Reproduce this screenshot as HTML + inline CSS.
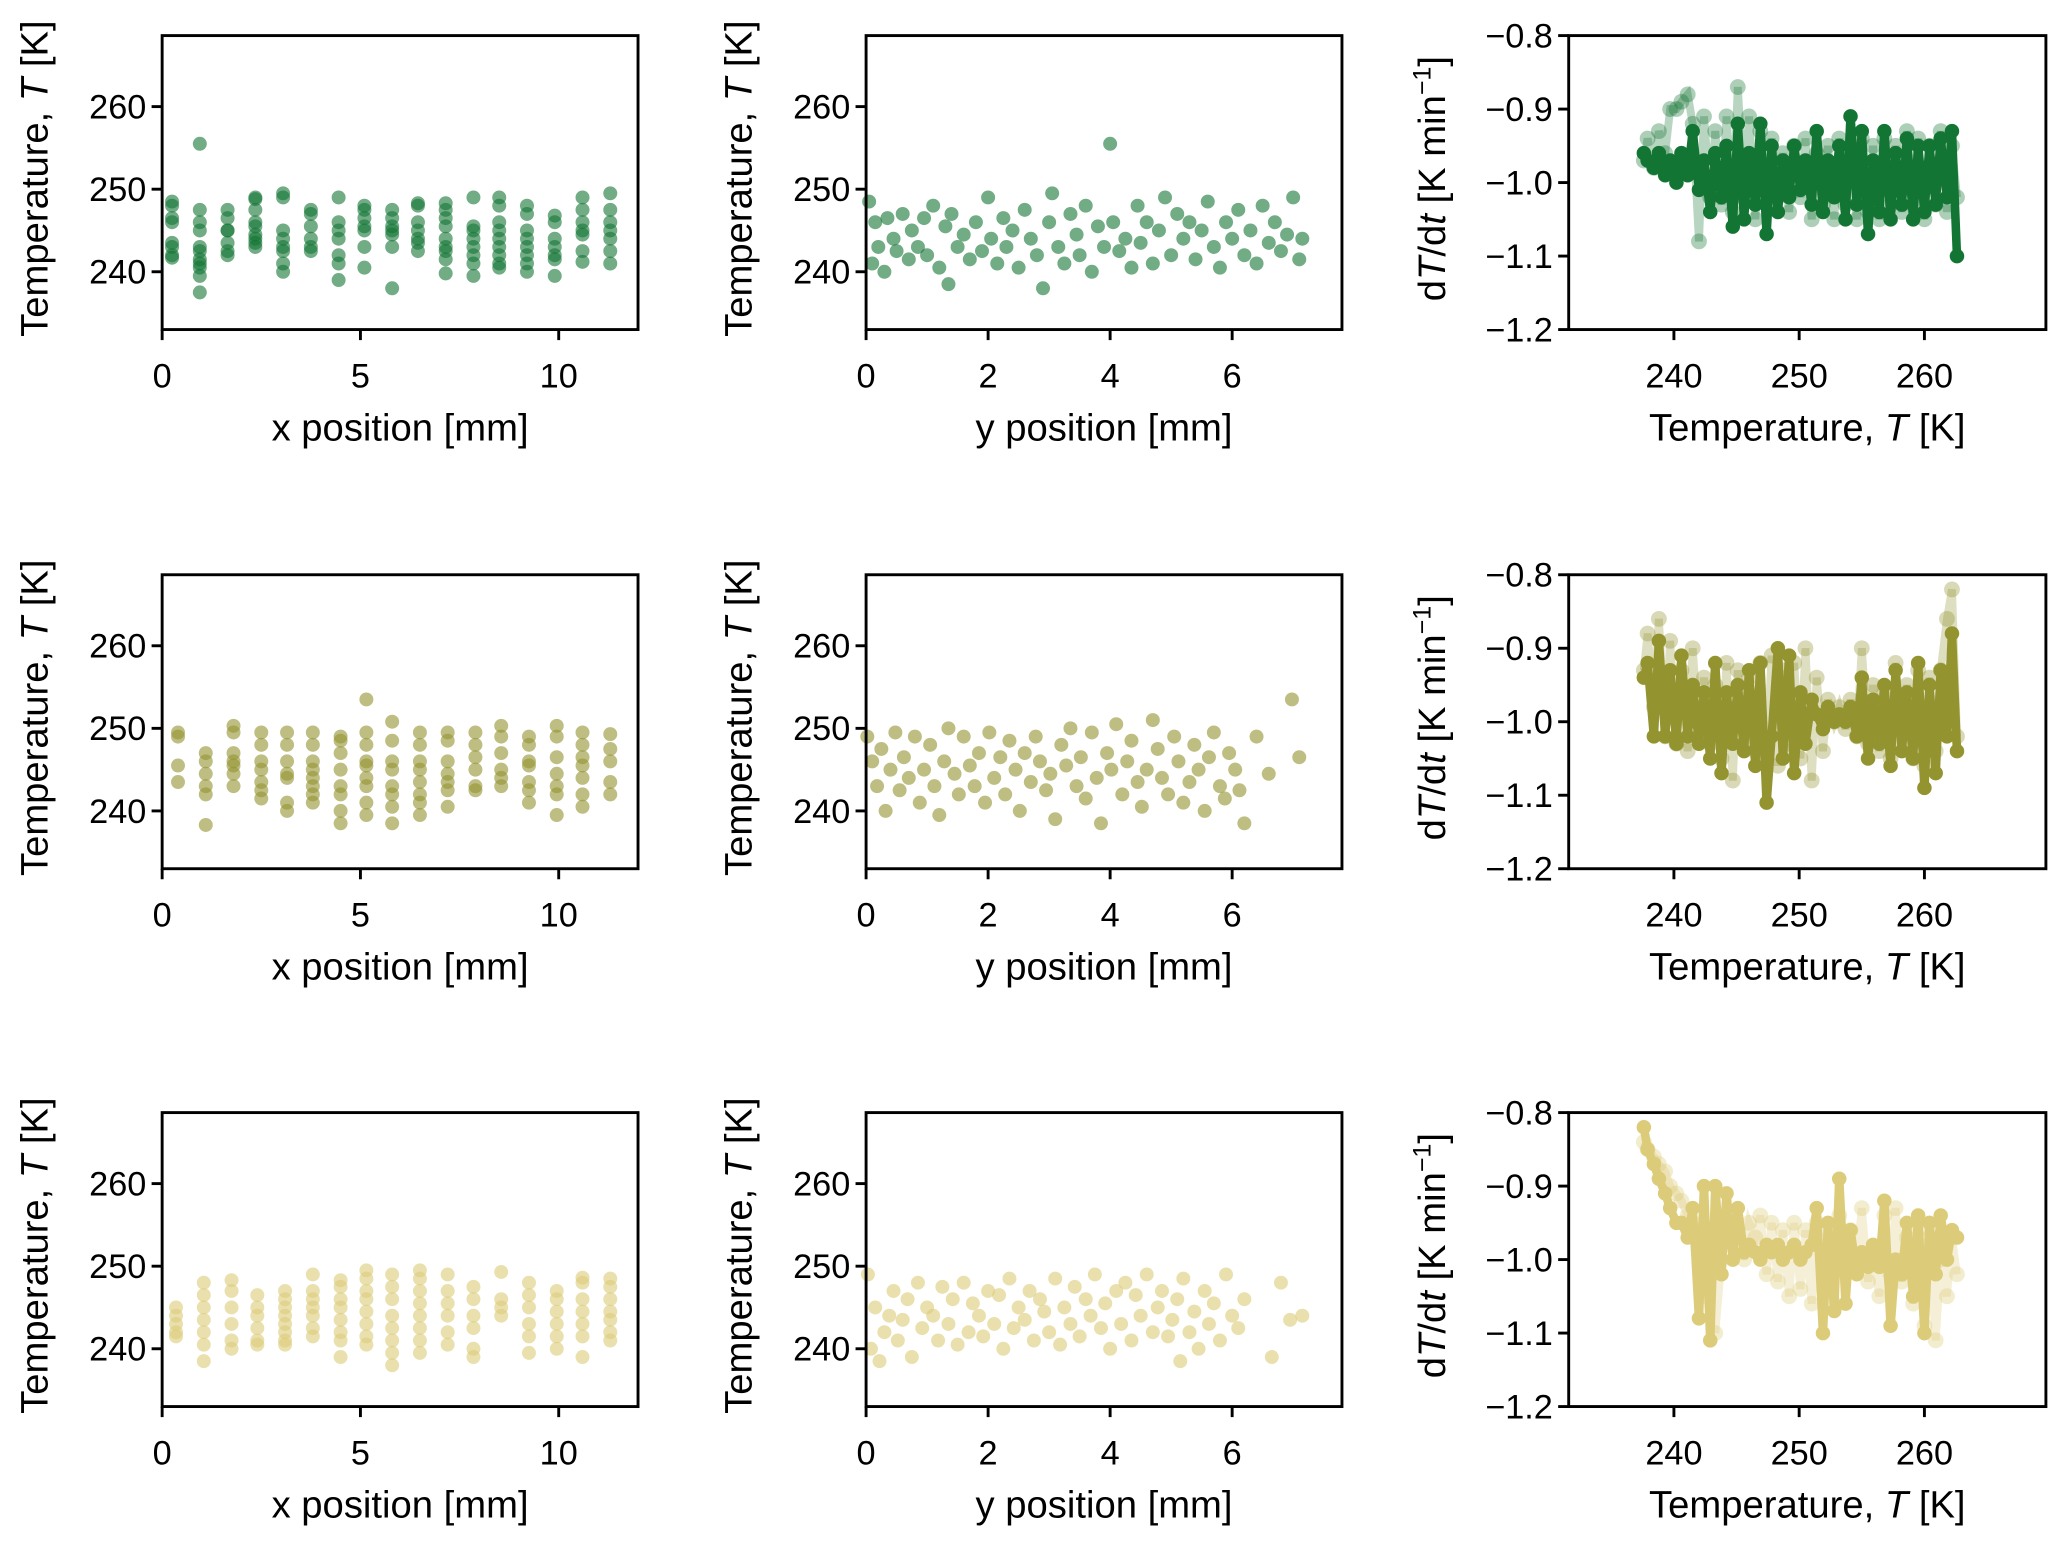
<!DOCTYPE html>
<html><head><meta charset="utf-8"><title>Temperature panels</title>
<style>
html,body{margin:0;padding:0;background:#fff;}
svg{display:block;font-family:"Liberation Sans",Arial,sans-serif;}
</style></head>
<body>
<svg id="fig" width="2067" height="1543" viewBox="0 0 1568 1170.5" preserveAspectRatio="none" xmlns="http://www.w3.org/2000/svg"></svg>
<script>
// ---------- data ----------
const xColsRow1 = [0.25,0.95,1.65,2.35,3.05,3.75,4.45,5.1,5.8,6.45,7.15,7.85,8.5,9.2,9.9,10.6,11.3];
const xTempsRow1 = [
[248.5,248,246.5,246,243.5,243,242,241.7],
[255.5,247.5,246,245,243,242.5,241.5,241,240.5,239.5,237.5],
[247.5,246.5,245,245,243.5,242.5,242],
[249,248.8,247.5,246,245.5,244.5,244,243.5,243],
[249.5,249,245,244,243,242.5,241,240],
[247.5,247,245.5,244,243,242.5],
[249,246,245,244,242,241,239],
[248,247.5,246.5,245.5,245,243,240.5],
[247.5,246.5,245.5,245,244.5,243,238],
[248.3,248,246,245,244,243.5,242.5],
[248.3,247.5,246.5,245.5,244,243,242.5,241.5,239.8],
[249,245.5,245,244,243,242,241,239.5],
[249,248,246,245,244,243,242,241,240.5],
[248,247,245,244,243,242,241,240],
[246.8,246,244,243,242,241.5,239.5],
[249,247.5,246,245,244.5,242.5,241.2],
[249.5,247.5,246,245,244,242.5,241]];
const xColsRow2 = [0.4,1.1,1.8,2.5,3.15,3.8,4.5,5.15,5.8,6.5,7.2,7.9,8.55,9.25,9.95,10.6,11.3];
const xTempsRow2 = [
[249.5,249,245.5,243.5],
[247,246,244.5,243,242,238.3],
[250.3,249.5,247,246,245.5,244.5,243],
[249.5,248,246,245,243.5,242.5,241.5],
[249.5,248,246,244.5,244,241,240],
[249.5,248,246,245,244,243,242,241],
[249,248.5,247,245,243,242,240,238.5],
[253.5,249.5,248,246,245.5,244,243,241,239.5],
[250.8,248.5,246,245,243,242,240.5,238.5],
[249.5,248,246,245,243.5,242,241,239.5],
[249.5,248.5,246,244.5,243.5,242.5,240.5],
[249.5,248,246.5,245,243,242.5],
[250.3,249,247,245,244,243],
[249,248,246,245.5,243.5,242.5,241],
[250.3,249,246.5,244.5,243,242,239.5],
[249.5,248,246.5,245.5,244,242,240.5],
[249.3,247.5,246,243.5,242]];
const xColsRow3 = [0.35,1.05,1.75,2.4,3.1,3.8,4.5,5.15,5.8,6.5,7.2,7.85,8.55,9.25,9.95,10.6,11.3];
const xTempsRow3 = [
[245,244,243,242,241.5],
[248,246.5,245,243.5,242,240.5,238.5],
[248.3,247,245,243,241,240],
[246.5,245,244,242.5,241,240.5],
[247,246,245,244,243,242,241,240.5],
[249,247,246,245,244,242.5,241.5],
[248.3,247.5,246,245,243.5,242,241,239],
[249.5,248.5,247,246,244.5,243,241.5,240.5],
[249,247.5,246,244,242.5,241,239.5,238],
[249.5,248.5,247,245.5,244,242.5,241,239.5],
[249,247,245.5,244,242,240.5],
[247.5,246,244,242.5,240,239],
[249.3,246,245,244],
[248,246.5,245,243,241.5,239.5],
[247,246,244.5,243,241.5,240],
[248.6,248,246,244.5,243,241.5,239],
[248.5,247.5,246,244.5,243.5,242,241]];

const yPos1 = [0.05,0.1,0.15,0.2,0.3,0.35,0.45,0.5,0.6,0.7,0.75,0.85,0.95,1.0,1.1,1.2,1.3,1.35,1.4,1.5,1.6,1.7,1.8,1.9,2.0,2.05,2.15,2.25,2.3,2.4,2.5,2.6,2.7,2.8,2.9,3.0,3.05,3.15,3.25,3.35,3.45,3.5,3.6,3.7,3.8,3.9,4.0,4.05,4.15,4.25,4.35,4.45,4.5,4.6,4.7,4.8,4.9,5.0,5.1,5.2,5.3,5.4,5.5,5.6,5.7,5.8,5.9,6.0,6.1,6.2,6.3,6.4,6.5,6.6,6.7,6.8,6.9,7.0,7.1,7.15];
const yTemps1 = [248.5,241,246,243,240,246.5,244,242.5,247,241.5,245,243,246.5,242,248,240.5,245.5,238.5,247,243,244.5,241.5,246,242.5,249,244,241,246.5,243,245,240.5,247.5,244,242,238,246,249.5,243,241,247,244.5,242,248,240,245.5,243,255.5,246,242.5,244,240.5,248,243.5,246,241,245,249,242,247,244,246,241.5,245,248.5,243,240.5,246,244,247.5,242,245,241,248,243.5,246,242.5,244.5,249,241.5,244];
const yPos2 = [0.02,0.1,0.18,0.25,0.32,0.4,0.48,0.55,0.62,0.7,0.8,0.88,0.95,1.05,1.12,1.2,1.28,1.35,1.45,1.52,1.6,1.7,1.78,1.85,1.95,2.02,2.1,2.2,2.28,2.35,2.45,2.52,2.6,2.7,2.78,2.85,2.95,3.02,3.1,3.2,3.28,3.35,3.45,3.52,3.6,3.7,3.78,3.85,3.95,4.02,4.1,4.2,4.28,4.35,4.45,4.52,4.6,4.7,4.78,4.85,4.95,5.05,5.12,5.2,5.3,5.38,5.45,5.55,5.62,5.7,5.8,5.88,5.95,6.05,6.12,6.2,6.4,6.6,6.98,7.1];
const yTemps2 = [249,246,243,247.5,240,245,249.5,242.5,246.5,244,249,241,245,248,243,239.5,246,250,244.5,242,249,245.5,243,247,241,249.5,244,246.5,242,248.5,245,240,247,243.5,249,246,242.5,244.5,239,248,245.5,250,243,246.5,241.5,249.5,244,238.5,247,245,250.5,242,246,248.5,243.5,240.5,245,251,247.5,244,242,249,246,241,243.5,248,245,240,246.5,249.5,243,241.5,247,245,242.5,238.5,249,244.5,253.5,246.5];
const yPos3 = [0.03,0.08,0.15,0.22,0.3,0.38,0.45,0.52,0.6,0.68,0.75,0.85,0.92,1.0,1.1,1.18,1.25,1.35,1.42,1.5,1.6,1.68,1.75,1.85,1.92,2.0,2.1,2.18,2.25,2.35,2.42,2.5,2.6,2.68,2.75,2.85,2.92,3.0,3.1,3.18,3.25,3.35,3.42,3.5,3.6,3.68,3.75,3.85,3.92,4.0,4.1,4.18,4.25,4.35,4.42,4.5,5.15,4.6,4.7,4.78,4.85,4.95,5.02,5.1,5.2,5.3,5.38,5.45,5.55,5.62,5.7,5.8,5.9,6.0,6.1,6.2,6.65,6.8,6.95,7.15];
const yTemps3 = [249,240,245,238.5,242,244,247,241,243.5,246,239,248,242.5,245,244,241,247.5,243,246,240.5,248,242,245.5,244,241.5,247,243,246.5,240,248.5,242.5,245,243.5,247,241,246,244.5,242,248.5,240.5,245,243,247.5,241.5,246,244,249,242.5,245.5,240,247,243,248,241,246.5,244,238.5,249,242,245,247,241.5,243.5,246,248.5,242,244.5,240,247,243,245.5,241,249,244,242.5,246,239,248,243.5,244];

const rateT = [262.6,262.2,261.8,261.3,260.9,260.4,260.0,259.5,259.1,258.6,258.2,257.7,257.3,256.8,256.4,255.9,255.5,255.0,254.6,254.1,253.7,253.2,252.8,252.3,251.9,251.4,251.0,250.5,250.1,249.6,249.2,248.7,248.3,247.8,247.4,246.9,246.5,246.0,245.6,245.1,244.7,244.2,243.8,243.3,242.9,242.4,242.0,241.5,241.1,240.6,240.2,239.7,239.3,238.8,238.4,237.9,237.6];
const rate1 = [-1.10,-0.93,-1.02,-0.94,-1.03,-0.95,-1.04,-0.95,-1.05,-0.94,-1.03,-0.96,-1.05,-0.93,-1.04,-0.97,-1.07,-0.93,-1.03,-0.91,-1.05,-0.95,-1.02,-0.97,-1.04,-0.93,-1.03,-0.97,-1.01,-0.95,-1.02,-0.97,-1.04,-0.95,-1.07,-0.92,-1.03,-0.96,-1.05,-0.92,-1.06,-0.95,-1.02,-0.96,-1.04,-0.97,-1.01,-0.93,-0.99,-0.96,-1.00,-0.97,-0.99,-0.96,-0.98,-0.97,-0.96];
const rateFaint1 = [-1.02,-0.95,-1.04,-0.93,-1.03,-0.95,-1.05,-0.94,-1.03,-0.93,-1.04,-0.95,-1.03,-0.94,-1.05,-0.95,-1.04,-0.94,-1.05,-0.96,-1.03,-0.94,-1.05,-0.95,-1.03,-0.96,-1.05,-0.94,-1.02,-0.95,-1.04,-0.96,-1.02,-0.94,-1.03,-0.93,-1.05,-0.91,-1.02,-0.87,-1.04,-0.91,-1.03,-0.93,-1.02,-0.91,-1.08,-0.92,-0.88,-0.89,-0.90,-0.90,-0.96,-0.93,-0.98,-0.94,-0.97];
const rate2 = [-1.04,-0.88,-1.02,-0.93,-1.07,-0.95,-1.09,-0.92,-1.05,-0.96,-1.04,-0.93,-1.06,-0.95,-1.03,-0.97,-1.05,-0.94,-1.02,-0.98,-1.00,-0.99,-1.00,-0.98,-1.01,-0.99,-0.97,-1.03,-0.96,-1.07,-0.91,-1.05,-0.90,-1.02,-1.11,-0.92,-1.06,-0.93,-1.04,-0.95,-1.03,-0.96,-1.07,-0.92,-1.05,-0.96,-1.03,-0.95,-1.02,-0.91,-1.03,-0.93,-1.02,-0.89,-1.02,-0.92,-0.94];
const rateFaint2 = [-1.02,-0.82,-0.86,-0.93,-1.04,-0.94,-1.06,-0.93,-1.05,-0.95,-1.03,-0.92,-1.05,-0.96,-1.04,-0.95,-1.03,-0.90,-1.02,-0.97,-1.01,-0.98,-1.00,-0.97,-1.04,-0.94,-1.08,-0.90,-1.05,-0.92,-1.04,-0.93,-1.06,-0.91,-1.05,-0.92,-1.04,-0.94,-1.03,-0.93,-1.08,-0.92,-1.05,-0.95,-1.03,-0.94,-1.02,-0.90,-1.04,-0.93,-1.03,-0.89,-1.02,-0.86,-0.98,-0.88,-0.93];
const rate3 = [-0.97,-0.96,-1.00,-0.94,-1.02,-0.95,-1.10,-0.94,-1.05,-0.95,-1.02,-1.00,-1.09,-0.92,-1.01,-0.98,-1.01,-0.99,-1.02,-0.96,-1.06,-0.89,-1.07,-0.95,-1.10,-0.93,-0.98,-0.99,-1.00,-0.98,-0.99,-1.00,-0.98,-0.99,-0.98,-1.00,-0.99,-0.98,-0.99,-0.93,-1.00,-0.91,-1.02,-0.90,-1.11,-0.90,-1.08,-0.93,-0.97,-0.95,-0.95,-0.93,-0.91,-0.89,-0.87,-0.85,-0.82];
const rateFaint3 = [-1.02,-0.97,-1.05,-1.00,-1.11,-0.97,-1.09,-0.96,-1.06,-0.97,-1.03,-0.93,-1.02,-0.94,-1.05,-0.99,-1.03,-0.93,-1.00,-0.96,-1.01,-0.94,-1.06,-0.96,-1.00,-0.95,-1.06,-0.96,-1.04,-0.95,-1.05,-0.96,-1.03,-0.95,-1.02,-0.94,-0.97,-0.95,-1.00,-0.96,-0.97,-0.95,-1.00,-1.10,-0.98,-1.05,-0.96,-0.95,-0.94,-0.92,-0.91,-0.90,-0.88,-0.87,-0.86,-0.85,-0.84];

const xTicks = [0,5,10];
const yPosTicks = [0,2,4,6];
const tempTicks = [240,250,260];
const rateTicks = [-0.8,-0.9,-1.0,-1.1,-1.2];
const rateTickLabels = ["\u22120.8","\u22120.9","\u22121.0","\u22121.1","\u22121.2"];
const rateXTicks = [240,250,260];

// ---------- drawing ----------
const NS = "http://www.w3.org/2000/svg";
const svg = document.getElementById('fig');
function mk(tag, attrs, parent){
  const e = document.createElementNS(NS, tag);
  for (const k in attrs) e.setAttribute(k, attrs[k]);
  (parent||svg).appendChild(e);
  return e;
}
const colors = ["#137533","#939330","#dccb78"];
const rowTops = [27,436,844];
const H = 223;
const cols = [{x0:123,x1:484},{x0:657,x1:1018},{x0:1190,x1:1552}];

function lin(d0,d1,r0,r1){return v=>r0+(v-d0)*(r1-r0)/(d1-d0);}

function axesFrame(g, x0,x1,y0,y1, xt, xtl, sx, yt, ytl, sy, xlabel, ylabelParts, ylx){
  mk('rect',{x:x0,y:y0,width:x1-x0,height:y1-y0,fill:'none',stroke:'#000','stroke-width':2.2},g);
  xt.forEach((v,i)=>{
    const px = sx(v);
    const t = mk('line',{x1:px,x2:px,y1:y1,y2:y1+8,stroke:'#000','stroke-width':2.2},g);
    
    
    const l = mk('text',{x:px,y:y1+44,'font-size':26,'text-anchor':'middle',fill:'#000'},g);
    l.textContent = xtl[i];
    
    
  });
  yt.forEach((v,i)=>{
    const py = sy(v);
    const t = mk('line',{x1:x0-8,x2:x0,y1:py,y2:py,stroke:'#000','stroke-width':2.2},g);
    
    
    const l = mk('text',{x:x0-12,y:py+9,'font-size':26,'text-anchor':'end',fill:'#000'},g);
    l.textContent = ytl[i];
    
    
  });
  const xl = mk('text',{x:(x0+x1)/2,y:y1+84,'font-size':29,'text-anchor':'middle',fill:'#000'},g);
  xl.innerHTML = xlabel;
  
  
  const cy = (y0+y1)/2 - 3;
  const yl = mk('text',{x:0,y:0,'font-size':29,'text-anchor':'middle',fill:'#000',transform:`translate(${ylx},${cy}) rotate(-90)`},g);
  yl.innerHTML = ylabelParts;
  
  
}

const tempLabel = 'Temperature, <tspan font-style="italic">T</tspan> [K]';
const rateLabel = 'd<tspan font-style="italic">T</tspan>/d<tspan font-style="italic">t</tspan> [K min<tspan font-size="19" dy="-11">\u22121</tspan><tspan dy="11">]</tspan>';

const xData = [[xColsRow1,xTempsRow1],[xColsRow2,xTempsRow2],[xColsRow3,xTempsRow3]];
const yData = [[yPos1,yTemps1],[yPos2,yTemps2],[yPos3,yTemps3]];
const rData = [[rate1,rateFaint1],[rate2,rateFaint2],[rate3,rateFaint3]];

for (let r=0;r<3;r++){
  const y0 = rowTops[r], y1 = y0+H;
  const c = colors[r];
  const sT = lin(233,268.6,y1,y0);

  // x-position panel
  let g = mk('g',{});
  
  
  let sx = lin(0,12,cols[0].x0,cols[0].x1);
  const [xc,xt] = xData[r];
  xc.forEach((xv,i)=>{
    xt[i].forEach(tv=>{
      const d = mk('circle',{cx:sx(xv),cy:sT(tv),r:5.3,fill:c,'fill-opacity':0.6},g);
      
      
    });
  });
  axesFrame(g,cols[0].x0,cols[0].x1,y0,y1,xTicks,xTicks.map(String),sx,tempTicks,tempTicks.map(String),sT,'x position [mm]',tempLabel,36);

  // y-position panel
  g = mk('g',{});
  
  
  sx = lin(0,7.8,cols[1].x0,cols[1].x1);
  const [yp,yt] = yData[r];
  yp.forEach((v,i)=>{
    const d = mk('circle',{cx:sx(v),cy:sT(yt[i]),r:5.3,fill:c,'fill-opacity':0.6},g);
    
    
  });
  axesFrame(g,cols[1].x0,cols[1].x1,y0,y1,yPosTicks,yPosTicks.map(String),sx,tempTicks,tempTicks.map(String),sT,'y position [mm]',tempLabel,570);

  // rate panel
  g = mk('g',{});
  
  
  sx = lin(231.6,269.7,cols[2].x0,cols[2].x1);
  const sR = lin(-1.2,-0.8,y1,y0);
  const [main,faint] = rData[r];
  const fp = rateT.map((t,i)=>sx(t)+','+sR(faint[i])).join(' ');
  const fl = mk('polyline',{points:fp,fill:'none',stroke:c,'stroke-opacity':0.3,'stroke-width':6},g);
  
  
  rateT.forEach((t,i)=>{
    const d = mk('circle',{cx:sx(t),cy:sR(faint[i]),r:6,fill:c,'fill-opacity':0.35},g);
    
    
  });
  const mp = rateT.map((t,i)=>sx(t)+','+sR(main[i])).join(' ');
  const ml = mk('polyline',{points:mp,fill:'none',stroke:c,'stroke-width':6.5,'stroke-linejoin':'round'},g);
  
  
  rateT.forEach((t,i)=>{
    const d = mk('circle',{cx:sx(t),cy:sR(main[i]),r:5.5,fill:c},g);
    
    
  });
  axesFrame(g,cols[2].x0,cols[2].x1,y0,y1,rateXTicks,rateXTicks.map(String),sx,rateTicks,rateTickLabels,sR,tempLabel,rateLabel,1096);
}
</script>
</body></html>
